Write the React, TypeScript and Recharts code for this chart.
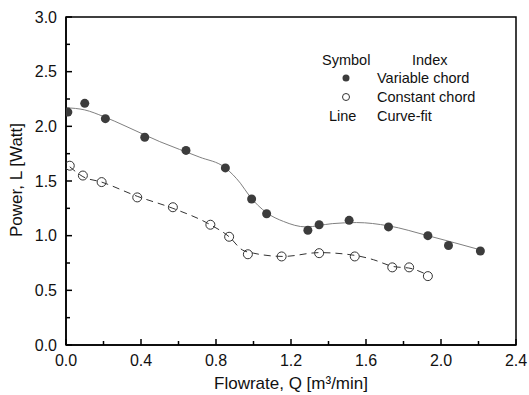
import React from "react";
import { ComposedChart, XAxis, YAxis, Line, Scatter, ReferenceArea } from "recharts";

// measured points
const variableQ = [0.01, 0.1, 0.21, 0.42, 0.64, 0.85, 0.99, 1.07, 1.29, 1.35, 1.51, 1.72, 1.93, 2.04, 2.21];
const variableL = [2.13, 2.21, 2.07, 1.9, 1.78, 1.62, 1.335, 1.2, 1.05, 1.1, 1.14, 1.08, 1.0, 0.91, 0.86];

const constantQ = [0.02, 0.09, 0.19, 0.38, 0.57, 0.77, 0.87, 0.97, 1.15, 1.35, 1.54, 1.74, 1.83, 1.93];
const constantL = [1.64, 1.55, 1.49, 1.35, 1.26, 1.1, 0.99, 0.83, 0.81, 0.84, 0.81, 0.71, 0.71, 0.63];

// curve-fit lines
const variableFitQ = [0, 0.1, 0.2, 0.32, 0.5, 0.71, 0.85, 0.93, 0.98, 1.07, 1.16, 1.28, 1.42, 1.55, 1.72, 1.93, 2.21];
const variableFitL = [2.17, 2.15, 2.09, 2.0, 1.86, 1.72, 1.62, 1.48, 1.36, 1.21, 1.13, 1.08, 1.11, 1.12, 1.09, 1.0, 0.87];

const constantFitQ = [0.02, 0.09, 0.19, 0.38, 0.57, 0.77, 0.87, 0.94, 1.0, 1.16, 1.35, 1.54, 1.64, 1.74, 1.84, 1.93];
const constantFitL = [1.63, 1.54, 1.49, 1.36, 1.25, 1.1, 0.99, 0.87, 0.84, 0.81, 0.845, 0.82, 0.78, 0.72, 0.7, 0.64];

const xTicks = [0, 0.2, 0.4, 0.6, 0.8, 1.0, 1.2, 1.4, 1.6, 1.8, 2.0, 2.2, 2.4];
const yTicks = [0, 0.25, 0.5, 0.75, 1.0, 1.25, 1.5, 1.75, 2.0, 2.25, 2.5, 2.75, 3.0];

const font = '"Liberation Sans", Arial, sans-serif';

const zip = (xs: number[], ys: number[]) => xs.map((x, i) => ({ x, y: ys[i] }));

const XTick = (props: any) => {
  const { x, y, payload } = props;
  const major = Math.round(payload.value * 10) % 4 === 0;
  return (
    <g>
      <line x1={x} x2={x} y1={y} y2={y - (major ? 6 : 4)} stroke="#000" strokeWidth={1.5} />
      {major && (
        <text x={x} y={y + 15} textAnchor="middle" dominantBaseline="central" fontSize={16} fontFamily={font} fill="#111">
          {payload.value.toFixed(1)}
        </text>
      )}
    </g>
  );
};

const YTick = (props: any) => {
  const { x, y, payload } = props;
  const major = Math.round(payload.value * 4) % 2 === 0;
  return (
    <g>
      <line x1={x} x2={x + (major ? 6 : 4)} y1={y} y2={y} stroke="#000" strokeWidth={1.5} />
      {major && (
        <text x={x - 9} y={y} textAnchor="end" dominantBaseline="central" fontSize={16} fontFamily={font} fill="#111">
          {payload.value.toFixed(1)}
        </text>
      )}
    </g>
  );
};

const FilledDot = (p: any) => <circle cx={p.cx} cy={p.cy} r={4.5} fill="#3c3c3c" />;
const OpenDot = (p: any) => <circle cx={p.cx} cy={p.cy} r={4.5} fill="none" stroke="#333" strokeWidth={1} />;

export default function App() {
  return (
    <div style={{ position: "absolute", left: 0, top: 0, width: 529, height: 395, background: "#fff" }}>
      <ComposedChart width={529} height={395} margin={{ top: 17, right: 13, left: 0, bottom: 0 }}>
        <XAxis
          type="number"
          dataKey="x"
          domain={[0, 2.4]}
          ticks={xTicks}
          tick={<XTick />}
          tickLine={false}
          tickSize={0}
          tickMargin={0}
          height={50}
          axisLine={{ stroke: "#000", strokeWidth: 1.5 }}
          allowDataOverflow
        />
        <YAxis
          type="number"
          dataKey="y"
          domain={[0, 3]}
          ticks={yTicks}
          tick={<YTick />}
          tickLine={false}
          tickSize={0}
          tickMargin={0}
          width={66}
          axisLine={{ stroke: "#000", strokeWidth: 1.5 }}
          allowDataOverflow
        />
        <ReferenceArea x1={0} x2={2.4} y1={0} y2={3} fill="none" stroke="#000" strokeWidth={1.5} />
        <Line
          data={zip(variableFitQ, variableFitL)}
          dataKey="y"
          type="monotone"
          stroke="#808080"
          strokeWidth={1}
          dot={false}
          isAnimationActive={false}
        />
        <Scatter data={zip(constantQ, constantL)} shape={<OpenDot />} isAnimationActive={false} />
        <Line
          data={zip(constantFitQ, constantFitL)}
          dataKey="y"
          type="monotone"
          stroke="#333"
          strokeWidth={1}
          strokeDasharray="7 5"
          dot={false}
          isAnimationActive={false}
        />
        <Scatter data={zip(variableQ, variableL)} shape={<FilledDot />} isAnimationActive={false} />
      </ComposedChart>
      <svg width={529} height={395} style={{ position: "absolute", left: 0, top: 0, pointerEvents: "none" }}>
        <g fontFamily={font} fontSize={14.5} fill="#111" dominantBaseline="central">
          <text x={322} y={60}>Symbol</text>
          <text x={412} y={60}>Index</text>
          <circle cx={346} cy={78} r={3.5} fill="#3c3c3c" />
          <text x={377} y={78}>Variable chord</text>
          <circle cx={346} cy={97} r={3.5} fill="none" stroke="#333" strokeWidth={1} />
          <text x={377} y={97}>Constant chord</text>
          <text x={329} y={116}>Line</text>
          <text x={377} y={116}>Curve-fit</text>
        </g>
        <text x={291} y={383} textAnchor="middle" dominantBaseline="central" fontFamily={font} fontSize={17} fill="#111">
          Flowrate, Q [m³/min]
        </text>
        <text
          x={16}
          y={180}
          textAnchor="middle"
          dominantBaseline="central"
          fontFamily={font}
          fontSize={17}
          fill="#111"
          transform="rotate(-90 16 180)"
        >
          Power, L [Watt]
        </text>
      </svg>
    </div>
  );
}
